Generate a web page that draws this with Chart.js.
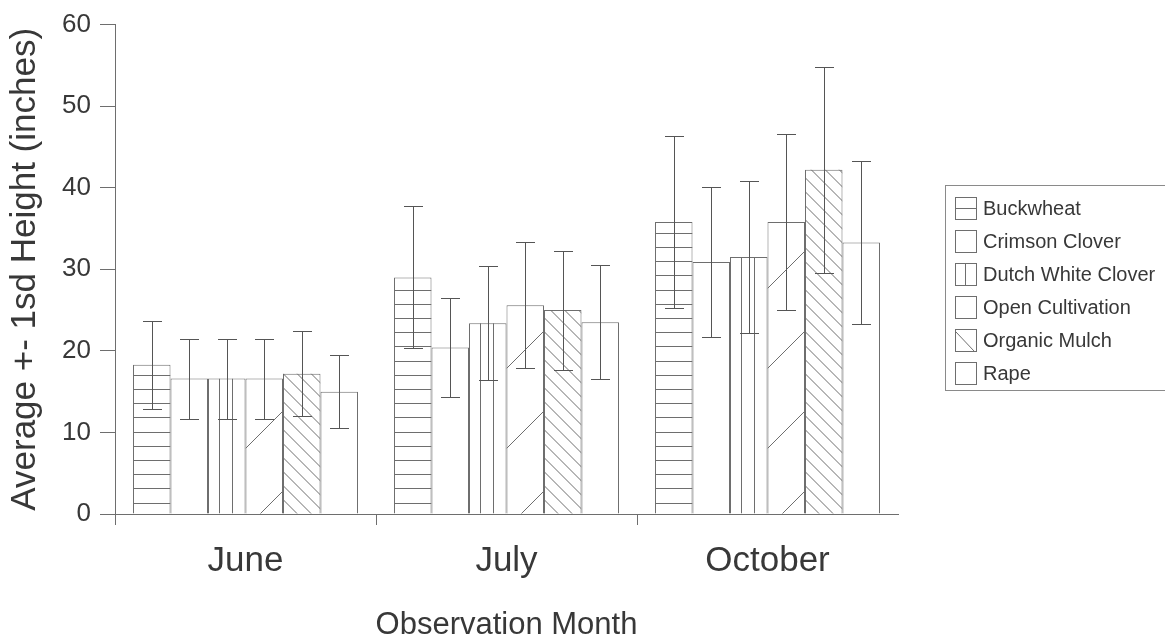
<!DOCTYPE html>
<html>
<head>
<meta charset="utf-8">
<title>Average height by observation month</title>
<script src="https://cdn.jsdelivr.net/npm/chart.js@4.4.1/dist/chart.umd.min.js"></script>
<style>
  html, body { margin: 0; padding: 0; background: #ffffff; }
  #wrap { width: 1165px; height: 639px; }
</style>
</head>
<body>
<div id="wrap"><canvas id="c" width="1165" height="639"></canvas></div>
<script>
// Observation months (x categories)
const months = ['June', 'July', 'October'];

// Treatment names (legend order)
const treatments = ['Buckwheat', 'Crimson Clover', 'Dutch White Clover', 'Open Cultivation', 'Organic Mulch', 'Rape'];

// Average height (inches) per month
const buckwheat       = [18.3, 29.0, 35.8];
const crimsonClover   = [16.6, 20.4, 30.9];
const dutchWhite      = [16.6, 23.4, 31.5];
const openCultivation = [16.6, 25.6, 35.8];
const organicMulch    = [17.2, 25.0, 42.2];
const rape            = [15.0, 23.5, 33.3];

// One standard deviation per month
const buckwheatSd       = [5.4, 8.7, 10.6];
const crimsonCloverSd   = [4.9, 6.1, 9.2];
const dutchWhiteSd      = [4.9, 7.0, 9.3];
const openCultivationSd = [4.9, 7.7, 10.8];
const organicMulchSd    = [5.2, 7.3, 12.6];
const rapeSd            = [4.5, 7.0, 10.0];

// Y axis range and step
const yMin = 0, yMax = 60, yStep = 10;

const means = [buckwheat, crimsonClover, dutchWhite, openCultivation, organicMulch, rape];
const sds = [buckwheatSd, crimsonCloverSd, dutchWhiteSd, openCultivationSd, organicMulchSd, rapeSd];
const hatches = ['horizontal', 'none', 'vertical', 'forward', 'backward', 'none'];

const LINE = '#6e6e6e';
const ERR = '#555555';
const TEXT = '#383838';
const FONT = "'Liberation Sans', Arial, Helvetica, sans-serif";

function seg(ctx, x1, y1, x2, y2) {
  ctx.beginPath();
  ctx.moveTo(x1, y1);
  ctx.lineTo(x2, y2);
  ctx.stroke();
}

// Fill pattern lines inside a bar rectangle
function hatchBar(ctx, kind, l, t, r, b) {
  if (kind === 'none') return;
  const w = r - l;
  ctx.save();
  ctx.beginPath();
  ctx.rect(l, t, w, b - t);
  ctx.clip();
  ctx.strokeStyle = LINE;
  ctx.lineWidth = 1;
  if (kind === 'horizontal') {
    for (let y = b - 11; y > t; y -= 14.2) {
      const yy = Math.round(y) + 0.5;
      seg(ctx, l, yy, r, yy);
    }
  } else if (kind === 'vertical') {
    for (let x = l + 10.5; x < r - 2; x += 13.5) {
      const xx = Math.round(x) + 0.5;
      seg(ctx, xx, t, xx, b);
    }
  } else if (kind === 'forward') {
    for (let y0 = b + 15; y0 > t; y0 -= 80) {
      seg(ctx, l, y0, r, y0 - w);
    }
  } else if (kind === 'backward') {
    for (let y0 = b; y0 + w > t; y0 -= 14) {
      seg(ctx, l, y0, r, y0 + w);
    }
  }
  ctx.restore();
}

const hatchAndErrors = {
  id: 'hatchAndErrors',
  afterDatasetsDraw(chart) {
    const ctx = chart.ctx;
    const yScale = chart.scales.y;
    chart.data.datasets.forEach((ds, di) => {
      const meta = chart.getDatasetMeta(di);
      meta.data.forEach((bar) => {
        const half = bar.width / 2;
        hatchBar(ctx, ds.hatch, bar.x - half, bar.y, bar.x + half, bar.base);
      });
    });
    ctx.save();
    ctx.strokeStyle = ERR;
    ctx.lineWidth = 1;
    chart.data.datasets.forEach((ds, di) => {
      const meta = chart.getDatasetMeta(di);
      meta.data.forEach((bar, i) => {
        const m = ds.data[i], s = ds.sd[i];
        const yTop = Math.round(yScale.getPixelForValue(m + s)) + 0.5;
        const yBot = Math.round(yScale.getPixelForValue(m - s)) + 0.5;
        const x = Math.round(bar.x) + 0.5;
        seg(ctx, x, yTop, x, yBot);
        seg(ctx, x - 9.5, yTop, x + 9.5, yTop);
        seg(ctx, x - 9.5, yBot, x + 9.5, yBot);
      });
    });
    ctx.restore();
  }
};

// Boxed legend on the right with hatched swatches
const boxLegend = {
  id: 'boxLegend',
  afterDraw(chart) {
    const ctx = chart.ctx;
    const left = 945, top = 185, rowH = 33;
    ctx.save();
    ctx.strokeStyle = '#8a8a8a';
    ctx.lineWidth = 1;
    ctx.strokeRect(left + 0.5, top + 0.5, 260, 205);
    chart.data.datasets.forEach((ds, i) => {
      const cy = top + 23 + i * rowH;
      const sx = 955, sy = Math.round(cy - 11);
      const sw = 21, sh = 22;
      ctx.strokeStyle = LINE;
      ctx.strokeRect(sx + 0.5, sy + 0.5, sw, sh);
      if (ds.hatch === 'horizontal') {
        seg(ctx, sx, sy + 11.5, sx + sw, sy + 11.5);
      } else if (ds.hatch === 'vertical') {
        seg(ctx, sx + 10.5, sy, sx + 10.5, sy + sh);
      } else if (ds.hatch === 'backward') {
        seg(ctx, sx + 1, sy + 3, sx + sw - 2, sy + sh);
      }
      ctx.fillStyle = TEXT;
      ctx.font = '20px ' + FONT;
      ctx.textBaseline = 'middle';
      ctx.textAlign = 'left';
      ctx.fillText(ds.label, 983, cy + 1);
    });
    ctx.restore();
  }
};

const datasets = treatments.map((name, i) => ({
  label: name,
  data: means[i],
  sd: sds[i],
  hatch: hatches[i],
  backgroundColor: '#ffffff',
  borderColor: LINE,
  borderWidth: 1,
  categoryPercentage: 0.862,
  barPercentage: 1.0
}));

new Chart(document.getElementById('c'), {
  type: 'bar',
  data: { labels: months, datasets },
  options: {
    responsive: false,
    animation: false,
    devicePixelRatio: 1,
    layout: { padding: { top: 22, right: 267, bottom: 0, left: 0 } },
    plugins: {
      legend: { display: false },
      tooltip: { enabled: false }
    },
    scales: {
      x: {
        offset: true,
        grid: {
          offset: true,
          drawOnChartArea: false,
          drawTicks: true,
          tickLength: 11,
          // no tick mark at the far right end of the axis
          color: (c) => (c.index === undefined || c.index >= months.length ? 'rgba(0,0,0,0)' : LINE)
        },
        border: { display: true, color: LINE, width: 1 },
        ticks: {
          color: TEXT,
          padding: 15,
          font: { family: FONT, size: 35, lineHeight: 1.2 }
        },
        title: {
          display: true,
          text: 'Observation Month',
          color: TEXT,
          padding: { top: 0, bottom: 0 },
          font: { family: FONT, size: 31, lineHeight: 0.9 }
        },
        afterFit(scale) { scale.height = 125; }
      },
      y: {
        min: yMin,
        max: yMax,
        ticks: {
          stepSize: yStep,
          color: TEXT,
          padding: 9,
          font: { family: FONT, size: 26 }
        },
        grid: {
          drawOnChartArea: false,
          drawTicks: true,
          tickLength: 15,
          color: LINE
        },
        border: { display: true, color: LINE, width: 1 },
        title: {
          display: true,
          text: 'Average +- 1sd Height (inches)',
          color: TEXT,
          padding: { top: 4, bottom: 0 },
          font: { family: FONT, size: 35, lineHeight: 1.2 }
        },
        afterFit(scale) { scale.width = 115; }
      }
    }
  },
  plugins: [hatchAndErrors, boxLegend]
});
</script>
</body>
</html>
